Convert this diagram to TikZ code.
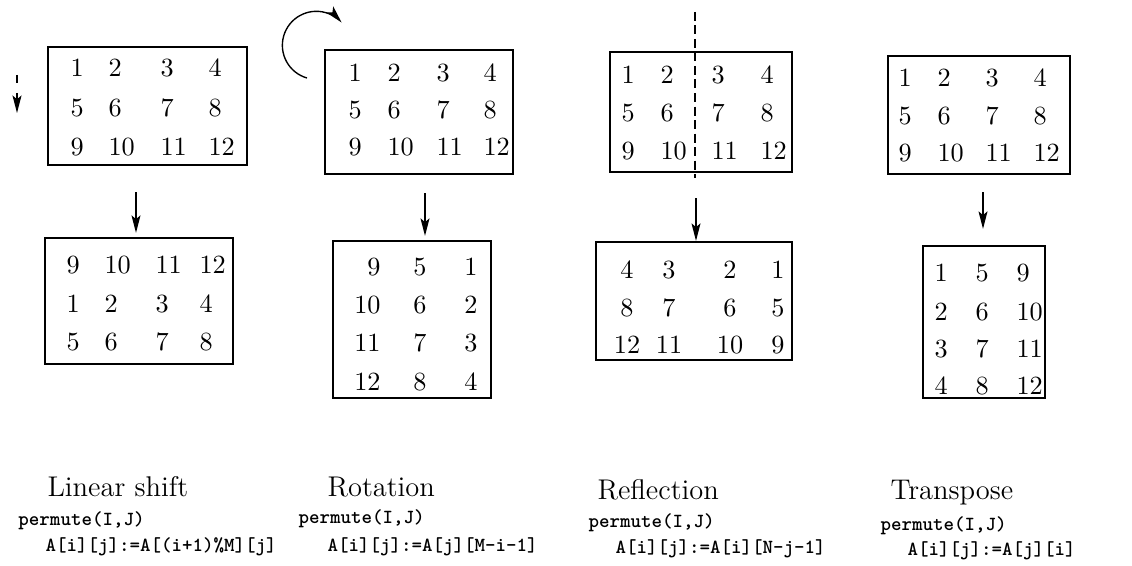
\documentclass[tikz,border=0pt]{standalone}
\usepackage{fontspec}
\usetikzlibrary{calc,fit,arrows.meta,positioning}
\tikzset{down/.style={-{Stealth[length=7pt,width=3.6pt,inset=1.5pt]},line width=0.55pt}}

\begin{document}
\begin{tikzpicture}[x=0.4pt,y=-0.4pt,font=\fontsize{10.5}{12}\selectfont]

\tikzset{framebox/.style={draw,line width=0.9pt,inner sep=0pt},
num/.style={inner sep=0pt},
caption/.style={font=\fontsize{11.4}{13}\selectfont,anchor=west,inner sep=0pt},
code/.style={font=\ttfamily\bfseries\fontsize{8}{9}\selectfont,anchor=west,inner sep=0pt}}

\useasboundingbox (0,0) rectangle (1132,566);

% Frames
\node[framebox,fit={(48,47) (247,165)}] (topA) {};
\node[framebox,fit={(325,50) (513,174)}] (topB) {};
\node[framebox,fit={(610,52) (792,172)}] (topC) {};
\node[framebox,fit={(888,56) (1070,174)}] (topD) {};
\node[framebox,fit={(45,238) (233,364)}] (botE) {};
\node[framebox,fit={(333,241) (491,398)}] (botF) {};
\node[framebox,fit={(596,242) (792,360)}] (botG) {};
\node[framebox,fit={(923,246) (1045,398)}] (botH) {};

% Input arrays
\foreach \y [count=\r from 0] in {68,108,147} \foreach \x [count=\c] in {70,108,160,208} {\pgfmathtruncatemacro\v{4*\r+\c} \node[num,anchor=west] (a\v) at (\x,\y) {\v};}
\foreach \y [count=\r from 0] in {73,110,147} \foreach \x [count=\c] in {348,387,436,483} {\pgfmathtruncatemacro\v{4*\r+\c} \node[num,anchor=west] (b\v) at (\x,\y) {\v};}
\foreach \y [count=\r from 0] in {75,113,151} \foreach \x [count=\c] in {621,660,711,760} {\pgfmathtruncatemacro\v{4*\r+\c} \node[num,anchor=west] (c\v) at (\x,\y) {\v};}
\foreach \y [count=\r from 0] in {78,116,153} \foreach \x [count=\c] in {898,937,985,1033} {\pgfmathtruncatemacro\v{4*\r+\c} \node[num,anchor=west] (d\v) at (\x,\y) {\v};}

% Permuted arrays
\foreach \y [count=\r from 0] in {265,304,342} \foreach \x [count=\c] in {66,104,155,199} {\pgfmathtruncatemacro\v{mod(4*\r+\c+7,12)+1} \node[num,anchor=west] (e\v) at (\x,\y) {\v};}
\foreach \y [count=\r from 0] in {267,305,343,382} \foreach \x [count=\c] in {381,427,478} {\pgfmathtruncatemacro\v{4*(3-\c)+\r+1} \node[num,anchor=east] (f\v) at (\x,\y) {\v};}
\foreach \y [count=\r from 0] in {270,308,345} \foreach \x [count=\c] in {627,669,730,778} {\pgfmathtruncatemacro\v{4*\r+5-\c} \node[num] (g\v) at (\x,\y) {\v};}
\foreach \y [count=\r from 0] in {273,312,349,386} \foreach \x [count=\c] in {934,975,1016} {\pgfmathtruncatemacro\v{4*(\c-1)+\r+1} \node[num,anchor=west] (h\v) at (\x,\y) {\v};}

% Arrows
\coordinate (arrE) at (136,192);
\coordinate (arrF) at (425,193);
\coordinate (arrG) at (696,198);
\coordinate (arrH) at (983,192);
\draw[down,shorten >=1.6pt] (arrE) -- (arrE |- botE.north);
\draw[down,shorten >=1.6pt] (arrF) -- (arrF |- botF.north);
\draw[down] (arrG) -- (arrG |- botG.north);
\draw[down,shorten >=6.4pt] (arrH) -- (arrH |- botH.north);

% Shift, turn and mirror marks
\coordinate (shiftTop) at (17,75);
\coordinate (shiftBot) at (17,113);
\draw[down,dash pattern=on 3.2pt off 4pt] (shiftTop) -- (shiftBot);
\coordinate (turnStart) at (307,78);
\draw[down] (turnStart) arc[start angle=106,end angle=318,radius=34];
\coordinate (mirrorTop) at (695,12);
\coordinate (mirrorBot) at (695,178);
\draw[line width=0.6pt,dash pattern=on 3.6pt off 1.8pt] (mirrorTop) -- (mirrorBot);

% Captions
\node[caption] (capE) at (47,487) {Linear shift};
\node[caption] (capF) at (327,487) {Rotation};
\node[caption] (capG) at (597,490) {Reflection};
\node[caption] (capH) at (890,493) {Transpose};

% Code
\node[code] (permE) at (18,521) {permute(I,J)};
\node[code] (permF) at (298,519) {permute(I,J)};
\node[code] (permG) at (588,523) {permute(I,J)};
\node[code] (permH) at (880,526) {permute(I,J)};
\node[code] (ruleE) at (45,547) {A[i][j]:=A[(i+1)\%M][j]};
\node[code] (ruleF) at (327,547) {A[i][j]:=A[j][M-i-1]};
\node[code] (ruleG) at (615,549) {A[i][j]:=A[i][N-j-1]};
\node[code] (ruleH) at (907,551) {A[i][j]:=A[j][i]};

\end{tikzpicture}
\end{document}
